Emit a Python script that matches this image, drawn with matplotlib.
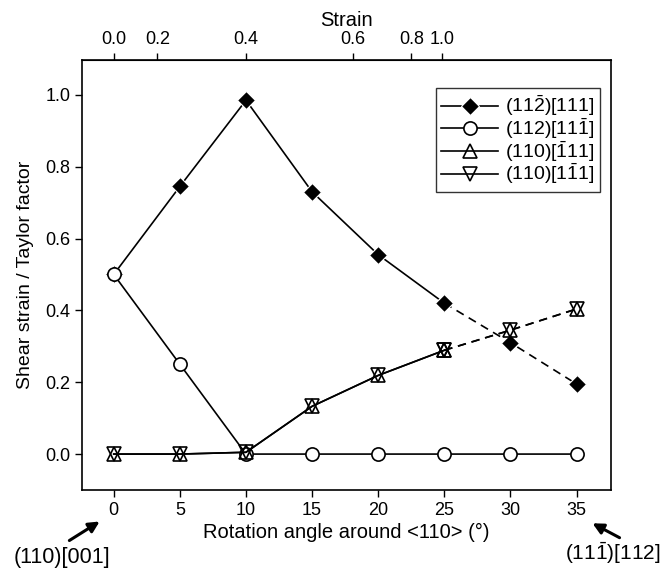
import matplotlib
matplotlib.use('Agg')
import matplotlib.pyplot as plt

plt.rcParams['font.family'] = ['Liberation Sans', 'DejaVu Sans']
plt.rcParams['mathtext.fontset'] = 'custom'
plt.rcParams['mathtext.rm'] = 'Liberation Sans'
plt.rcParams['mathtext.default'] = 'regular'

angle = [0, 5, 10, 15, 20, 25, 30, 35]
s112_111 = [0.50, 0.745, 0.985, 0.73, 0.555, 0.42, 0.31, 0.195]
s112_11b1 = [0.50, 0.25, 0.0, 0.0, 0.0, 0.0, 0.0, 0.0]
s110_b111 = [0.0, 0.0, 0.005, 0.133, 0.219, 0.289, 0.345, 0.404]
s110_1b11 = [0.0, 0.0, 0.005, 0.133, 0.219, 0.289, 0.345, 0.404]

strain_labels = ['0.0', '0.2', '0.4', '0.6', '0.8', '1.0']
strain_angle = [0, 3.3, 10, 18.1, 22.5, 24.8]

labels = [r'$(11\bar{2})[111]$', r'$(112)[11\bar{1}]$',
          r'$(110)[\bar{1}11]$', r'$(110)[1\bar{1}1]$']

fig = plt.figure(figsize=(6.65, 5.69), dpi=100)
ax = fig.add_axes([82/665, 1-490/569, (611-82)/665, (490-60)/569])

n = 6  # solid up to 25 deg, dashed afterwards
lw = 1.2
dash = (0, (5, 3.5))
ax.plot(angle[:n], s112_111[:n], color='black', lw=lw, marker='D', ms=9,
        mfc='black', mec='white', mew=0.8, label=labels[0], zorder=3)
ax.plot(angle[n-1:], s112_111[n-1:], color='black', lw=lw, ls=dash,
        marker='D', ms=9, mfc='black', mec='white', mew=0.8, zorder=3)
ax.plot(angle, s112_11b1, color='black', lw=lw, marker='o', ms=9.5,
        mfc='white', mec='black', mew=1.2, label=labels[1], zorder=4)
ax.plot(angle[:n], s110_b111[:n], color='black', lw=lw, marker='^', ms=10,
        mfc='none', mec='black', mew=1.2, label=labels[2], zorder=5)
ax.plot(angle[n-1:], s110_b111[n-1:], color='black', lw=lw, ls=dash,
        marker='^', ms=10, mfc='none', mec='black', mew=1.2, zorder=5)
ax.plot(angle[:n], s110_1b11[:n], color='black', lw=lw, marker='v', ms=10,
        mfc='none', mec='black', mew=1.2, label=labels[3], zorder=5)
ax.plot(angle[n-1:], s110_1b11[n-1:], color='black', lw=lw, ls=dash,
        marker='v', ms=10, mfc='none', mec='black', mew=1.2, zorder=5)

ax.set_xlim(-2.4, 37.6)
ax.set_ylim(-0.10, 1.097)
ax.set_xticks(angle)
ax.set_yticks([0.0, 0.2, 0.4, 0.6, 0.8, 1.0])
ax.set_yticklabels(['0.0', '0.2', '0.4', '0.6', '0.8', '1.0'])
ax.tick_params(direction='out', length=5, width=1, labelsize=13, colors='black')
ax.tick_params(top=False, right=False)
for sp in ax.spines.values():
    sp.set_linewidth(1.2)

ax.set_xlabel('Rotation angle around <110> (°)', fontsize=14.5, labelpad=3)
ax.set_ylabel('Shear strain / Taylor factor', fontsize=14, labelpad=8)

top = ax.secondary_xaxis('top')
top.set_xticks(strain_angle)
top.set_xticklabels(strain_labels)
top.tick_params(direction='out', length=5, width=1, labelsize=13)
top.set_xlabel('Strain', fontsize=14.5, labelpad=4)

leg = ax.legend(loc='upper right', fontsize=14, frameon=True, fancybox=False,
                edgecolor='black', handlelength=2.9, handletextpad=0.35,
                borderpad=0.3, labelspacing=-0.1, borderaxespad=0,
                bbox_to_anchor=(0.979, 0.935))
leg.get_frame().set_linewidth(1.0)

fig.text(62/665, 1-557/569, '(110)[001]', ha='center', va='center', fontsize=15.5)
fig.text(613/665, 1-553/569, r'$(11\bar{1})[112]$', ha='center', va='center', fontsize=15)
ax.annotate('', xy=(102/665, 1-520/569), xycoords='figure fraction',
            xytext=(67/665, 1-542/569), textcoords='figure fraction',
            arrowprops=dict(arrowstyle='-|>', color='black', lw=2.2, mutation_scale=16))
ax.annotate('', xy=(590/665, 1-522/569), xycoords='figure fraction',
            xytext=(622/665, 1-539/569), textcoords='figure fraction',
            arrowprops=dict(arrowstyle='-|>', color='black', lw=2.2, mutation_scale=16))

fig.savefig('out.png', dpi=100)
